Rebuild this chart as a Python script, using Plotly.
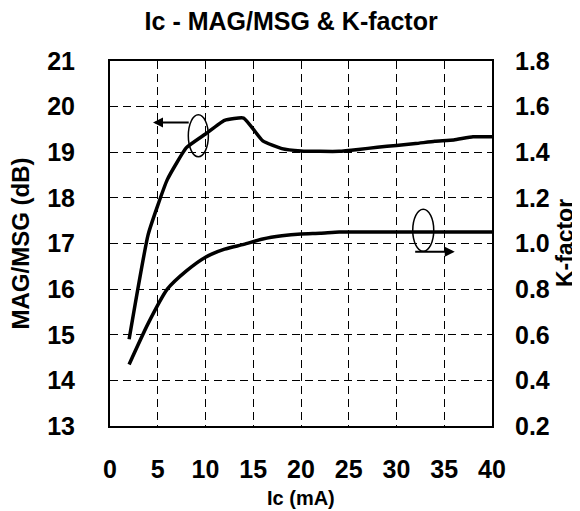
"""Ic vs MAG/MSG and K-factor, dual axis line chart."""

import plotly.graph_objects as go

ic_mag = [2, 4, 6, 8, 10, 12, 14, 16, 18, 20, 22, 24, 26, 28, 30, 32, 34, 36, 38, 40]
mag_db = [14.9, 17.2, 18.4, 19.1, 19.4, 19.7, 19.75, 19.25, 19.08, 19.03,
          19.02, 19.02, 19.06, 19.11, 19.15, 19.19, 19.24, 19.27, 19.34, 19.34]

ic_k = [2, 4, 6, 8, 10, 12, 14, 16, 18, 20, 22, 24, 26, 28, 30, 32, 34, 36, 38, 40]
k_factor = [0.47, 0.65, 0.80, 0.88, 0.94, 0.975, 0.996, 1.02, 1.034, 1.042,
            1.045, 1.05, 1.05, 1.05, 1.05, 1.05, 1.05, 1.05, 1.05, 1.05]

FONT = "Arial, Liberation Sans, sans-serif"
GRID = dict(showgrid=True, gridcolor="black", gridwidth=1, griddash="8px,5px")

fig = go.Figure()
fig.add_trace(go.Scatter(x=ic_mag, y=mag_db, mode="lines",
                         line=dict(color="black", width=3.5, shape="spline", smoothing=0.4),
                         name="MAG/MSG"))
fig.add_trace(go.Scatter(x=ic_k, y=k_factor, mode="lines", yaxis="y2",
                         line=dict(color="black", width=3.5, shape="spline", smoothing=0.6),
                         name="K-factor"))

# ellipses + arrows pointing at the axis each curve belongs to
fig.add_shape(type="circle", xref="x", yref="y", x0=8.2, x1=10.3, y0=18.9, y1=19.82,
              line=dict(color="black", width=1.5))
fig.add_shape(type="circle", xref="x", yref="y", x0=31.7, x1=33.9, y0=16.83, y1=17.75,
              line=dict(color="black", width=1.5))
fig.add_annotation(x=4.5, y=19.65, ax=8.4, ay=19.65, xref="x", yref="y", axref="x", ayref="y",
                   showarrow=True, arrowhead=2, arrowsize=1, arrowwidth=2, arrowcolor="black", text="")
fig.add_annotation(x=36.1, y=16.82, ax=31.8, ay=16.82, xref="x", yref="y", axref="x", ayref="y",
                   showarrow=True, arrowhead=2, arrowsize=1, arrowwidth=2, arrowcolor="black", text="")

# axis titles
fig.add_annotation(text="<b>Ic (mA)</b>", xref="paper", yref="paper", x=0.5, y=-0.197,
                   showarrow=False, font=dict(size=20), yanchor="middle")
fig.add_annotation(text="<b>MAG/MSG (dB)</b>", xref="paper", yref="paper", x=-0.233, y=0.5,
                   textangle=-90, showarrow=False, font=dict(size=24), xanchor="center")
fig.add_annotation(text="<b>K-factor</b>", xref="paper", yref="paper", x=1.19, y=0.5,
                   textangle=-90, showarrow=False, font=dict(size=23), xanchor="center")

# the page body adds an 8px offset, so the figure is 8px smaller and shifted back
fig.update_layout(
    width=572, height=503,
    paper_bgcolor="white", plot_bgcolor="white",
    font=dict(family=FONT, color="black", size=25),
    margin=dict(l=102, r=88, t=53, b=85),
    showlegend=False,
    title=dict(text="<b>Ic - MAG/MSG & K-factor</b>", x=0.495, xanchor="center",
               y=0.974, yanchor="middle", font=dict(size=25)),
    xaxis=dict(range=[0, 40], dtick=5, tick0=0, showline=True, linecolor="black", linewidth=2,
               mirror=True, ticks="", ticklabelstandoff=20, automargin=False, zeroline=False, **GRID),
    yaxis=dict(range=[13, 21], dtick=1, showline=True, linecolor="black", linewidth=2,
               mirror=True, ticks="", ticklabelstandoff=28, automargin=False, zeroline=False, **GRID),
    yaxis2=dict(range=[0.2, 1.8], dtick=0.2, tickformat=".1f", overlaying="y", side="right",
                showgrid=False, zeroline=False, ticks="", ticklabelstandoff=22, automargin=False),
)
fig.update_xaxes(tickprefix="<b>", ticksuffix="</b>")
fig.update_yaxes(tickprefix="<b>", ticksuffix="</b>")

fig.write_html("out.html")
